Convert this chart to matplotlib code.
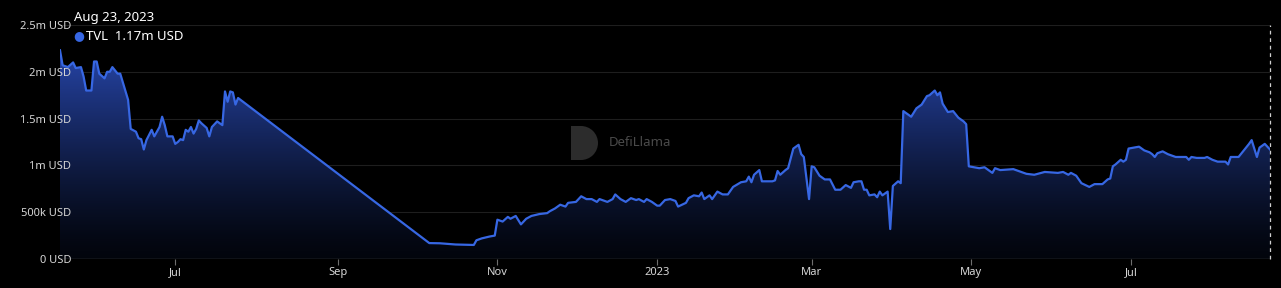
import numpy as np
import pandas as pd
import matplotlib
matplotlib.use("Agg")
import matplotlib.pyplot as plt
import matplotlib.dates as mdates
from matplotlib.patches import Polygon, Rectangle, Wedge

plt.rcParams['font.family'] = ['Noto Sans', 'DejaVu Sans']

# TVL readings (millions of USD)
dates = [
    "2022-05-18", "2022-05-19", "2022-05-21", "2022-05-23", "2022-05-24", "2022-05-26",
    "2022-05-27", "2022-05-28", "2022-05-30", "2022-05-31", "2022-06-01", "2022-06-02",
    "2022-06-04", "2022-06-05", "2022-06-06", "2022-06-07", "2022-06-09", "2022-06-10",
    "2022-06-13", "2022-06-14", "2022-06-16", "2022-06-17", "2022-06-18", "2022-06-19",
    "2022-06-20", "2022-06-22", "2022-06-23", "2022-06-25", "2022-06-26", "2022-06-27",
    "2022-06-28", "2022-06-30", "2022-07-01", "2022-07-02", "2022-07-03", "2022-07-04",
    "2022-07-05", "2022-07-06", "2022-07-07", "2022-07-08", "2022-07-09", "2022-07-10",
    "2022-07-11", "2022-07-13", "2022-07-14", "2022-07-15", "2022-07-17", "2022-07-18",
    "2022-07-19", "2022-07-20", "2022-07-21", "2022-07-22", "2022-07-23", "2022-07-24",
    "2022-07-25",
    "2022-10-06", "2022-10-10", "2022-10-16", "2022-10-23", "2022-10-24", "2022-10-26",
    "2022-10-29", "2022-10-31", "2022-11-01", "2022-11-03", "2022-11-05", "2022-11-06",
    "2022-11-08", "2022-11-10", "2022-11-12", "2022-11-14", "2022-11-17", "2022-11-20",
    "2022-11-21", "2022-11-23", "2022-11-25", "2022-11-27", "2022-11-28", "2022-12-01",
    "2022-12-03", "2022-12-05", "2022-12-07", "2022-12-09", "2022-12-10", "2022-12-13",
    "2022-12-15", "2022-12-16", "2022-12-18", "2022-12-20", "2022-12-22", "2022-12-24",
    "2022-12-25", "2022-12-27", "2022-12-28", "2022-12-30", "2023-01-01", "2023-01-02",
    "2023-01-04", "2023-01-06", "2023-01-08", "2023-01-09", "2023-01-12", "2023-01-13",
    "2023-01-15", "2023-01-17", "2023-01-18", "2023-01-19", "2023-01-21", "2023-01-22",
    "2023-01-24", "2023-01-26", "2023-01-28", "2023-01-30", "2023-02-02", "2023-02-04",
    "2023-02-05", "2023-02-06", "2023-02-07", "2023-02-09", "2023-02-10", "2023-02-12",
    "2023-02-14", "2023-02-15", "2023-02-16", "2023-02-17", "2023-02-19", "2023-02-20",
    "2023-02-22", "2023-02-24", "2023-02-25", "2023-02-26", "2023-02-28", "2023-03-01",
    "2023-03-02", "2023-03-04", "2023-03-06", "2023-03-08", "2023-03-10", "2023-03-12",
    "2023-03-14", "2023-03-16", "2023-03-17", "2023-03-19", "2023-03-20", "2023-03-21",
    "2023-03-22", "2023-03-23", "2023-03-25", "2023-03-26", "2023-03-27", "2023-03-28",
    "2023-03-30", "2023-03-31", "2023-04-01", "2023-04-03", "2023-04-04", "2023-04-05",
    "2023-04-08", "2023-04-10", "2023-04-12", "2023-04-14", "2023-04-15", "2023-04-17",
    "2023-04-18", "2023-04-19", "2023-04-20", "2023-04-22", "2023-04-24", "2023-04-26",
    "2023-04-28", "2023-04-29", "2023-04-30", "2023-05-02", "2023-05-04", "2023-05-06",
    "2023-05-07", "2023-05-09", "2023-05-10", "2023-05-12", "2023-05-17", "2023-05-22",
    "2023-05-25", "2023-05-29", "2023-06-03", "2023-06-05", "2023-06-07", "2023-06-08",
    "2023-06-10", "2023-06-12", "2023-06-15", "2023-06-17", "2023-06-20", "2023-06-22",
    "2023-06-23", "2023-06-24", "2023-06-25", "2023-06-27", "2023-06-28", "2023-06-29",
    "2023-06-30", "2023-07-02", "2023-07-04", "2023-07-06", "2023-07-08", "2023-07-09",
    "2023-07-10", "2023-07-11", "2023-07-13", "2023-07-15", "2023-07-18", "2023-07-20",
    "2023-07-22", "2023-07-23", "2023-07-24", "2023-07-26", "2023-07-29", "2023-07-30",
    "2023-08-01", "2023-08-03", "2023-08-05", "2023-08-06", "2023-08-07", "2023-08-08",
    "2023-08-11", "2023-08-13", "2023-08-15", "2023-08-16", "2023-08-18", "2023-08-19",
    "2023-08-21", "2023-08-23",
]
tvl = [
    2.23, 2.07, 2.05, 2.10, 2.04, 2.05,
    1.95, 1.80, 1.80, 2.11, 2.11, 1.98,
    1.93, 2.00, 2.00, 2.05, 1.98, 1.98,
    1.70, 1.39, 1.36, 1.29, 1.28, 1.17,
    1.27, 1.38, 1.31, 1.41, 1.52, 1.43,
    1.31, 1.31, 1.23, 1.25, 1.28, 1.27,
    1.38, 1.36, 1.41, 1.34, 1.39, 1.48,
    1.45, 1.40, 1.31, 1.41, 1.47, 1.45,
    1.43, 1.79, 1.68, 1.79, 1.78, 1.65,
    1.72,
    0.17, 0.168, 0.155, 0.15, 0.20, 0.22,
    0.24, 0.25, 0.42, 0.40, 0.45, 0.43,
    0.46, 0.37, 0.43, 0.46, 0.48, 0.49,
    0.51, 0.54, 0.58, 0.56, 0.60, 0.61,
    0.67, 0.64, 0.64, 0.61, 0.64, 0.61,
    0.64, 0.69, 0.64, 0.61, 0.65, 0.63,
    0.64, 0.61, 0.64, 0.61, 0.57, 0.57,
    0.63, 0.64, 0.62, 0.56, 0.60, 0.65,
    0.68, 0.67, 0.71, 0.64, 0.68, 0.64,
    0.72, 0.69, 0.69, 0.77, 0.82, 0.83,
    0.88, 0.82, 0.90, 0.95, 0.83, 0.83,
    0.83, 0.84, 0.94, 0.90, 0.95, 0.97,
    1.18, 1.22, 1.12, 1.09, 0.64, 0.99,
    0.98, 0.89, 0.85, 0.85, 0.74, 0.74,
    0.79, 0.76, 0.82, 0.83, 0.83, 0.74,
    0.74, 0.68, 0.69, 0.66, 0.72, 0.68,
    0.72, 0.32, 0.78, 0.83, 0.81, 1.58,
    1.52, 1.61, 1.65, 1.74, 1.75, 1.80,
    1.75, 1.78, 1.66, 1.57, 1.58, 1.51,
    1.47, 1.44, 0.99, 0.98, 0.97, 0.98,
    0.96, 0.92, 0.97, 0.95, 0.96, 0.91,
    0.90, 0.93, 0.92, 0.93, 0.90, 0.92,
    0.89, 0.81, 0.77, 0.80, 0.80, 0.85,
    0.86, 0.99, 1.01, 1.06, 1.04, 1.06,
    1.18, 1.19, 1.20, 1.16, 1.14, 1.12,
    1.09, 1.13, 1.15, 1.12, 1.09, 1.09,
    1.09, 1.06, 1.09, 1.08, 1.08, 1.09,
    1.06, 1.04, 1.04, 1.04, 1.01, 1.09,
    1.09, 1.16, 1.23, 1.27, 1.09, 1.19,
    1.23, 1.17,
]

tick_dates = ["2022-07-01", "2022-09-01", "2022-11-01", "2023-01-01",
              "2023-03-01", "2023-05-01", "2023-07-01"]
tick_labels = ["Jul", "Sep", "Nov", "2023", "Mar", "May", "Jul"]
y_ticks = [0, 0.5, 1.0, 1.5, 2.0, 2.5]
y_labels = ["0 USD", "500k USD", "1m USD", "1.5m USD", "2m USD", "2.5m USD"]

line_col = '#3767e3'
bg = '#000000'

x = mdates.date2num(pd.to_datetime(dates))
y = np.array(tvl)

fig = plt.figure(figsize=(12.81, 2.88), dpi=100, facecolor=bg)
ax = fig.add_axes([60/1281, 1-259/288, 1210/1281, 234/288])
ax.set_facecolor(bg)

x0, x1 = x[0], x[-1]
ax.set_xlim(x0, x1)
ax.set_ylim(0, 2.5)

# gradient area under the line
top = y.max()
grad = np.linspace(1, 0, 256).reshape(-1, 1)
c_top = np.array([0.15, 0.27, 0.66])
c_bot = np.array([0.01, 0.02, 0.05])
img = c_bot + (c_top - c_bot) * grad[..., None] ** 1.3
img = img.reshape(256, 1, 3)
im = ax.imshow(img, extent=[x0, x1, 0, top], aspect='auto', origin='upper', zorder=1)
poly = Polygon(np.column_stack([np.r_[x0, x, x1], np.r_[0, y, 0]]), closed=True,
               facecolor='none', edgecolor='none')
ax.add_patch(poly)
im.set_clip_path(poly)

ax.plot(x, y, color=line_col, lw=1.6, zorder=3, solid_joinstyle='round')

# grid
for t in y_ticks[1:]:
    ax.axhline(t, color='#1e1e1e', lw=0.8, zorder=0.5)
ax.axhline(0, color='#6e6e6e', lw=0.9, zorder=4)

ax.set_yticks(y_ticks)
ax.set_yticklabels(y_labels)
ax.tick_params(axis='y', length=0, pad=-8, labelsize=8, labelcolor='#d6d6d6')
for lab in ax.get_yticklabels():
    lab.set_horizontalalignment('right')

ax.set_xticks(mdates.date2num(pd.to_datetime(tick_dates)))
ax.set_xticklabels(tick_labels)
ax.tick_params(axis='x', length=4, width=0.8, color='#6e6e6e', pad=2,
               labelsize=8, labelcolor='#d6d6d6')
for lab in ax.get_xticklabels():
    if lab.get_text() == "2023":
        lab.set_fontweight('bold')

for s in ax.spines.values():
    s.set_visible(False)

# crosshair at the hovered point
ax.axvline(x1, color='#cfcfcf', lw=0.9, ls=(0, (3, 3)), zorder=5, clip_on=False)

# tooltip text
fig.text(74/1281, 1-17/288, "Aug 23, 2023", color='white', fontsize=9.5,
         va='center', ha='left')
fig.text(73/1281, 1-36/288, "\u25cf", color=line_col, fontsize=9, va='center', ha='left')
fig.text(86/1281, 1-36/288, "TVL  1.17m USD", color='white', fontsize=9.5,
         va='center', ha='left')

# watermark: D-shaped logo + name (pixel coords via inches)
px = 1 / 100
H = 2.88
logo_col = '#2c2c2c'
fig.patches.append(Rectangle((571*px, H - 160*px), 10*px, 34*px,
                             transform=fig.dpi_scale_trans, facecolor=logo_col,
                             edgecolor='none'))
fig.patches.append(Wedge((581*px, H - 143*px), 17*px, -90, 90,
                         transform=fig.dpi_scale_trans, facecolor=logo_col,
                         edgecolor='none'))
fig.text(609/1281, 1-143/288, "DefiLlama", color='#4a4a4a', fontsize=9.5,
         fontweight='bold', va='center', ha='left')

fig.savefig("out.png", dpi=100, facecolor=bg)
